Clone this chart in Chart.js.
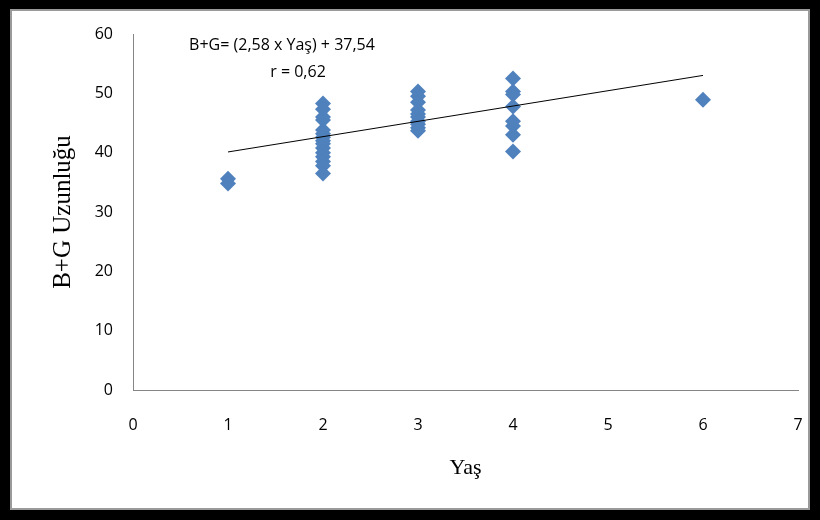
<!DOCTYPE html>
<html>
<head>
<meta charset="utf-8">
<script src="https://cdn.jsdelivr.net/npm/chart.js@4"></script>
<style>
  html, body { margin: 0; padding: 0; background: #fff; }
  #wrap { width: 820px; height: 520px; }
</style>
</head>
<body>
<div id="wrap"><canvas id="lengthChart" width="820" height="520"></canvas></div>
<script>
// Data
const ages1 = [1, 1];
const lengths1 = [35.6, 34.8];
const ages2 = [2, 2, 2, 2, 2, 2, 2, 2, 2, 2, 2, 2, 2, 2, 2];
const lengths2 = [48.3, 47.3, 46.0, 45.5, 43.8, 43.2, 42.6, 42.0, 41.5, 40.8, 40.0, 39.3, 38.5, 37.8, 36.5];
const ages3 = [3, 3, 3, 3, 3, 3, 3, 3, 3, 3];
const lengths3 = [50.3, 49.5, 48.5, 47.2, 46.5, 46.0, 45.3, 44.8, 44.2, 43.7];
const ages4 = [4, 4, 4, 4, 4, 4, 4, 4];
const lengths4 = [52.5, 50.3, 49.8, 47.8, 45.3, 44.5, 43.0, 40.2];
const ages6 = [6];
const lengths6 = [48.9];

// Regression: B+G = slope * Yaş + intercept
const slope = 2.58;
const intercept = 37.54;
const rValue = '0,62';
const trendX = [1, 6];

const xTicks = [0, 1, 2, 3, 4, 5, 6, 7];
const yTicks = [0, 10, 20, 30, 40, 50, 60];

const ages = [].concat(ages1, ages2, ages3, ages4, ages6);
const lengths = [].concat(lengths1, lengths2, lengths3, lengths4, lengths6);
const points = ages.map((a, i) => ({ x: a, y: lengths[i] }));
const trendPoints = trendX.map(x => ({ x: x, y: slope * x + intercept }));

const tickFont = { family: 'Open Sans', size: 16 };

// Framed background
const framePlugin = {
    id: 'frame',
    beforeDraw(chart) {
        const ctx = chart.ctx;
        ctx.save();
        ctx.fillStyle = '#000';
        ctx.fillRect(0, 0, chart.width, chart.height);
        ctx.fillStyle = '#9a9a9a';
        ctx.fillRect(10, 9, chart.width - 20, chart.height - 19);
        ctx.fillStyle = '#fff';
        ctx.fillRect(12, 11, chart.width - 24, chart.height - 23);
        ctx.restore();
    }
};

// Equation text above the points
const equationPlugin = {
    id: 'equation',
    afterDraw(chart) {
        const ctx = chart.ctx;
        ctx.save();
        ctx.fillStyle = '#000';
        ctx.font = '16px "Open Sans"';
        ctx.textAlign = 'center';
        ctx.textBaseline = 'middle';
        const eq = 'B+G= (' + String(slope).replace('.', ',') + ' x Yaş) + ' + String(intercept).replace('.', ',');
        ctx.fillText(eq, 282, 45);
        ctx.fillText('r = ' + rValue, 298, 72);
        ctx.restore();
    }
};

new Chart(document.getElementById('lengthChart').getContext('2d'), {
    type: 'scatter',
    data: {
        datasets: [{
            data: points,
            backgroundColor: '#4F81BD',
            borderColor: '#4F81BD',
            pointStyle: 'rectRot',
            pointRadius: 8,
            borderWidth: 0,
            order: 2,
        }, {
            type: 'line',
            data: trendPoints,
            borderColor: '#000',
            borderWidth: 1,
            pointRadius: 0,
            fill: false,
            order: 1,
        }],
    },
    options: {
        responsive: false,
        animation: false,
        events: [],
        layout: { padding: { left: 14, top: 34, right: 22, bottom: 14 } },
        plugins: { legend: { display: false }, tooltip: { enabled: false } },
        scales: {
            x: {
                type: 'linear',
                min: 0,
                max: 7,
                afterBuildTicks(scale) { scale.ticks = xTicks.map(v => ({ value: v })); },
                afterFit(scale) {
                    scale.height = 116;
                    // labels fit inside the frame, no extra side padding
                    scale.paddingLeft = 0;
                    scale.paddingRight = 0;
                },
                grid: { display: false, drawTicks: false },
                border: { display: true, color: '#868686', width: 1 },
                ticks: { font: tickFont, color: '#000', padding: 26, maxRotation: 0 },
                title: {
                    display: true,
                    text: 'Yaş',
                    color: '#000',
                    font: { family: 'Liberation Serif', size: 22 },
                    padding: { top: 0, bottom: 25 },
                },
            },
            y: {
                min: 0,
                max: 60,
                afterBuildTicks(scale) { scale.ticks = yTicks.map(v => ({ value: v })); },
                afterFit(scale) { scale.width = 119; },
                grid: { display: false, drawTicks: false },
                border: { display: true, color: '#868686', width: 1 },
                ticks: { font: tickFont, color: '#000', padding: 20 },
                title: {
                    display: true,
                    text: 'B+G Uzunluğu',
                    color: '#000',
                    font: { family: 'Liberation Serif', size: 25 },
                    padding: { top: 34, bottom: 0 },
                },
            },
        },
    },
    plugins: [framePlugin, equationPlugin],
});
</script>
</body>
</html>
